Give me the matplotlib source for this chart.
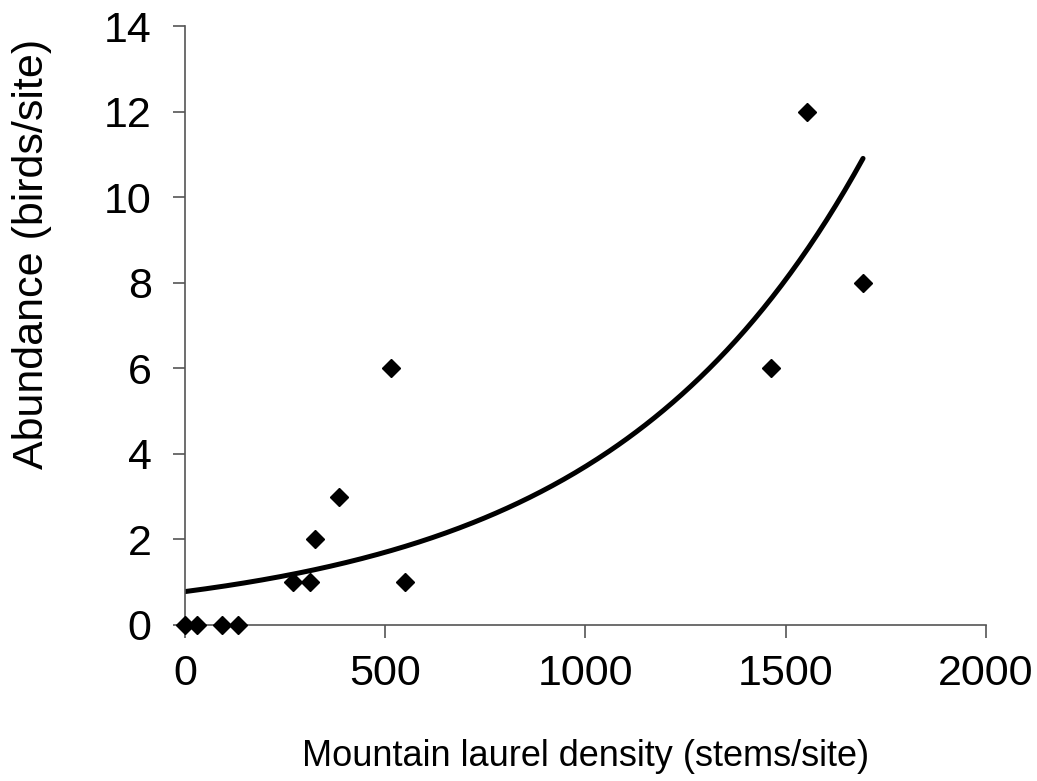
import numpy as np
import matplotlib
matplotlib.use("Agg")
import matplotlib.pyplot as plt
from matplotlib import font_manager

plt.rcParams['font.family'] = ['Liberation Sans', 'DejaVu Sans']

# mountain laurel density vs bird abundance
density = [0, 29, 92, 132, 270, 312, 324, 385, 514, 549, 1463, 1553, 1693]
abundance = [0, 0, 0, 0, 1, 1, 2, 3, 6, 1, 6, 12, 8]

# exponential trend line y = a * exp(b * x)
fit_a = 0.78
fit_b = 0.001558
fit_xmax = 1693

xticks = [0, 500, 1000, 1500, 2000]
yticks = [0, 2, 4, 6, 8, 10, 12, 14]

# x title looks like a narrow face in the original
names = {f.name for f in font_manager.fontManager.ttflist}
if 'Liberation Sans Narrow' in names:
    xlab_font, xlab_size = 'Liberation Sans Narrow', 31
else:
    xlab_font, xlab_size = 'Liberation Sans', 26

fig = plt.figure(figsize=(10.37, 7.81), dpi=100)
ax = fig.add_axes([0.1784, 0.1998, 0.7724, 0.7669])

xs = np.linspace(0, fit_xmax, 300)
ax.plot(xs, fit_a * np.exp(fit_b * xs), color='black', lw=3.6, solid_capstyle='round', zorder=2)
ax.plot(density, abundance, 'D', color='black', markersize=8.7, clip_on=False, zorder=3)

ax.set_xlim(0, 2000)
ax.set_ylim(0, 14)
ax.set_xticks(xticks)
ax.set_yticks(yticks)

for s in ['top', 'right']:
    ax.spines[s].set_visible(False)
for s in ['left', 'bottom']:
    ax.spines[s].set_color('#555555')
    ax.spines[s].set_linewidth(1.2)

ax.tick_params(direction='out', length=9, width=1.2, color='#555555', labelsize=31)
ax.tick_params(axis='x', pad=12)
ax.tick_params(axis='y', pad=15)

ax.set_xlabel('Mountain laurel density (stems/site)', fontsize=xlab_size, family=xlab_font)
ax.set_ylabel('Abundance (birds/site)', fontsize=31)
ax.xaxis.set_label_coords(0.5, -0.19)
ax.yaxis.set_label_coords(-0.166, 0.619)

fig.savefig('out.png', dpi=100)
